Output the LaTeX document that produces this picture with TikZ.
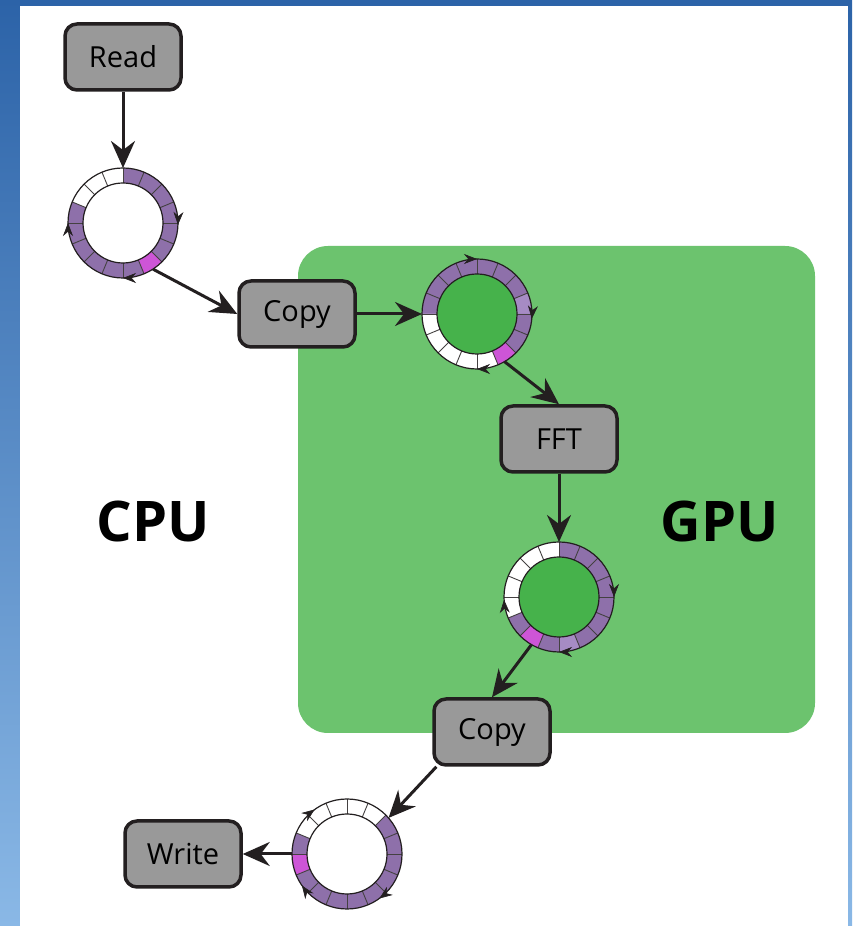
\documentclass[tikz,border=0pt]{standalone}
\usepackage{fontspec}
\setmainfont{Open Sans}
\usetikzlibrary{arrows.meta,calc}

\definecolor{ink}{RGB}{35,31,32}
\definecolor{boxgray}{RGB}{153,153,153}
\definecolor{gpugreen}{RGB}{108,195,110}
\definecolor{bufgreen}{RGB}{70,178,75}
\definecolor{segP}{RGB}{142,112,170}
\definecolor{segL}{RGB}{166,139,196}
\definecolor{segW}{RGB}{255,255,255}
\definecolor{segM}{RGB}{205,85,215}
\definecolor{skytop}{RGB}{44,99,168}
\definecolor{skybot}{RGB}{138,184,230}

\tikzset{
  stage/.style={draw=ink, fill=boxgray, line width=3.5pt, rounded corners=12pt,
    minimum width=116pt, minimum height=66pt, inner sep=0pt,
    font=\fontsize{29}{32}\selectfont},
  flow/.style={draw=ink, line width=3pt, -{Stealth[length=27pt,width=24pt,inset=9pt]}},
  buf/.style={circle, minimum size=110pt, inner sep=0pt, outer sep=0pt},
  segline/.style={draw=ink!85, line width=0.9pt},
  ringline/.style={draw=ink, line width=1.2pt},
  tick/.style={draw=ink, line width=0.6pt, -{Stealth[length=13pt,width=10pt]}},
  side/.style={font=\fontsize{56}{60}\selectfont\bfseries}
}

% ring buffer: node name, centre fill, 16 segment colours counter-clockwise from 0 deg,
% then the angles of the small clockwise direction marks
\newcommand\bufring[4]{%
  \begin{scope}[shift={(#1)}]
    \fill[#2] (0,0) circle (40);
    \foreach \c [count=\k from 0] in {#3} {
      \pgfmathsetmacro\a{\k*22.5}
      \pgfmathsetmacro\b{\k*22.5+22.5}
      \fill[\c] (\a:55) arc[start angle=\a, end angle=\b, radius=55]
        -- (\b:40) arc[start angle=\b, end angle=\a, radius=40] -- cycle;
    }
    \foreach \k in {0,...,15} {
      \draw[segline] (\k*22.5:40) -- (\k*22.5:55);
    }
    \draw[ringline] (0,0) circle (40);
    \draw[ringline] (0,0) circle (55);
    \foreach \t in {#4} {
      \draw[tick] (\t+10:55) arc[start angle=\t+10, end angle=\t, radius=55];
    }
  \end{scope}%
}

\begin{document}
\begin{tikzpicture}[x=1pt,y=1pt]
  % backdrop and page
  \shade[top color=skytop, bottom color=skybot] (0,0) rectangle (852,926);
  \fill[white] (20,0) rectangle (848,920);
  \useasboundingbox (0,0) rectangle (852,926);

  % GPU area
  \fill[gpugreen, rounded corners=30pt] (298,193) rectangle (815,680);

  \node[side] (cpu) at (153,404) {CPU};
  \node[side] (gpu) at (720,404) {GPU};

  % stages
  \node[stage] (read)  at (123,869) {Read};
  \node[stage] (copyA) at (297,612) {Copy};
  \node[stage] (fft)   at (559,487) {FFT};
  \node[stage] (copyB) at (492,194) {Copy};
  \node[stage] (write) at (183,72)  {Write};

  % buffers
  \node[buf] (r1) at (123,703) {};
  \node[buf] (r2) at (477,612) {};
  \node[buf] (r3) at (559,329) {};
  \node[buf] (r4) at (347,72)  {};

  \bufring{r1}{white}{segP,segP,segP,segP,segW,segW,segW,segP,segP,segP,segP,segP,segP,segM,segP,segP}{-2,180,270}
  \bufring{r2}{bufgreen}{segL,segP,segP,segP,segP,segP,segP,segP,segW,segW,segW,segW,segW,segM,segP,segP}{90,-5,270}
  \bufring{r3}{bufgreen}{segP,segP,segP,segP,segW,segW,segW,segW,segW,segP,segM,segP,segL,segP,segP,segP}{0,183,270}
  \bufring{r4}{white}{segP,segP,segW,segW,segW,segW,segW,segP,segM,segP,segP,segP,segP,segP,segP,segP}{126,215,306}

  % data flow
  \draw[flow] (read.south) -- (r1.north);
  \draw[flow] (r1.-57) -- (copyA.west);
  \draw[flow] (copyA.east) -- (r2.west);
  \draw[flow] (r2.-60) -- (fft.north);
  \draw[flow] (fft.south) -- (r3.north);
  \draw[flow] (r3.240) -- (copyB.north);
  \draw[flow] (copyB.212) -- (r4.41);
  \draw[flow] (r4.west) -- (write.east);
\end{tikzpicture}
\end{document}
